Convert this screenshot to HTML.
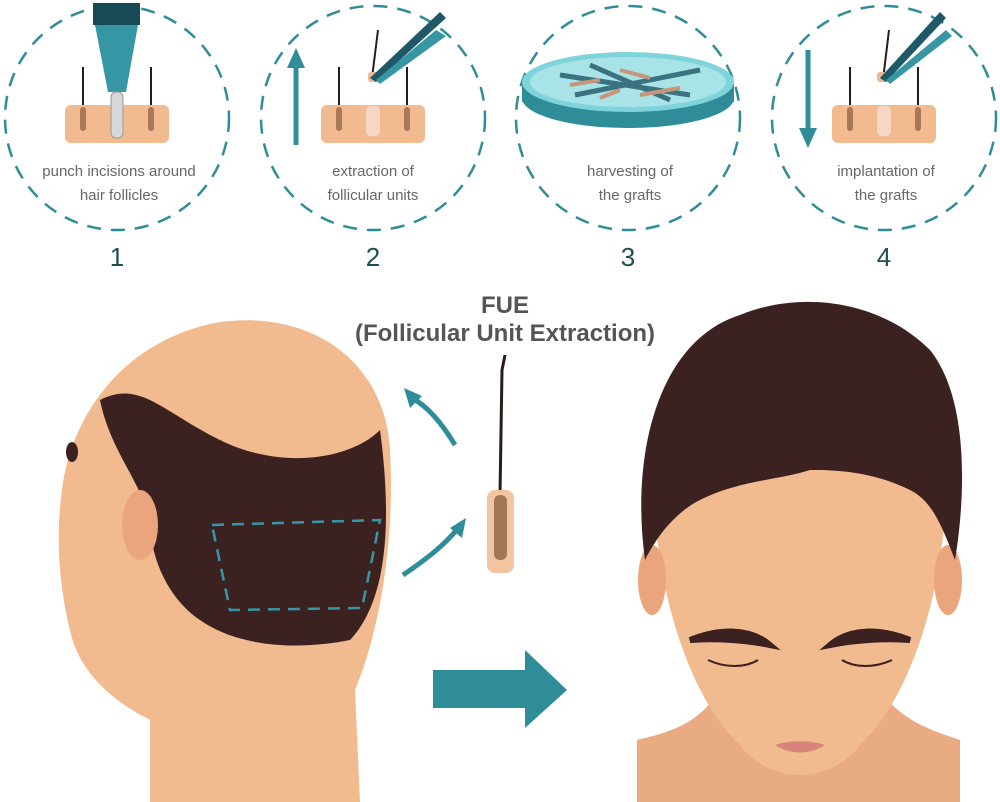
<!DOCTYPE html>
<html><head><meta charset="utf-8"><style>
html,body{margin:0;padding:0;background:#fff;}
svg{display:block;}
text{font-family:"Liberation Sans",sans-serif;}
</style></head><body>
<svg width="1000" height="802" viewBox="0 0 1000 802" xmlns="http://www.w3.org/2000/svg">
<defs>
<g id="skin">
<rect x="-52" y="0" width="104" height="38" rx="6" fill="#f2bb8f"/>
<path d="M-34 0 L-34 -38" stroke="#2b1a18" stroke-width="2"/>
<path d="M34 0 L34 -38" stroke="#2b1a18" stroke-width="2"/>
<rect x="-37" y="2" width="6" height="24" rx="3" fill="#a87858"/>
<rect x="31" y="2" width="6" height="24" rx="3" fill="#a87858"/>
</g>
</defs>
<g fill="none" stroke="#2e8d98" stroke-width="2.5" stroke-dasharray="14 10">
<circle cx="117" cy="118" r="112"/>
<circle cx="373" cy="118" r="112"/>
<circle cx="628" cy="118" r="112"/>
<circle cx="884" cy="118" r="112"/>
</g>
<use href="#skin" x="117" y="105"/>
<rect x="93" y="3" width="47" height="22" fill="#184a55"/>
<path d="M95 25 L138 25 L126 92 L108 92 Z" fill="#3796a4"/>
<rect x="111" y="92" width="12" height="46" rx="5" fill="#d8d8d8" stroke="#999"/>
<use href="#skin" x="373" y="105"/>
<rect x="366" y="106" width="14" height="30" rx="5" fill="#f7d7c4"/>
<path d="M372 78 L378 30" stroke="#2b1a18" stroke-width="2"/>
<rect x="368" y="72" width="14" height="10" rx="3" fill="#e9b991"/>
<path d="M370 78 L440 12 L446 18 L376 82 Z" fill="#1f5866"/>
<path d="M376 80 L436 30 L446 36 L380 84 Z" fill="#3796a4"/>
<path d="M296 145 L296 60" stroke="#2e8d98" stroke-width="5"/>
<path d="M287 68 L296 48 L305 68 Z" fill="#2e8d98"/>
<ellipse cx="628" cy="98" rx="106" ry="30" fill="#2e8d98"/>
<rect x="522" y="82" width="212" height="20" fill="#2e8d98"/>
<ellipse cx="628" cy="82" rx="106" ry="30" fill="#7fd3da"/>
<ellipse cx="628" cy="82" rx="98" ry="25" fill="#a7e3e7"/>
<g stroke="#1f5866" stroke-width="5" opacity="0.8">
<path d="M560 75 L690 95"/><path d="M575 95 L700 70"/><path d="M590 65 L670 100"/>
</g>
<g stroke="#c8957a" stroke-width="4">
<path d="M570 85 L600 80"/><path d="M620 70 L650 78"/><path d="M640 95 L680 88"/><path d="M600 98 L620 90"/>
</g>
<use href="#skin" x="884" y="105"/>
<rect x="877" y="106" width="14" height="30" rx="5" fill="#f7d7c4"/>
<path d="M883 80 L889 30" stroke="#2b1a18" stroke-width="2"/>
<rect x="877" y="72" width="14" height="10" rx="3" fill="#e9b991"/>
<path d="M880 78 L940 12 L946 18 L886 82 Z" fill="#1f5866"/>
<path d="M886 80 L946 30 L952 36 L890 84 Z" fill="#3796a4"/>
<path d="M808 50 L808 135" stroke="#2e8d98" stroke-width="5"/>
<path d="M799 128 L808 148 L817 128 Z" fill="#2e8d98"/>
<g fill="#666" font-size="15" text-anchor="middle">
<text x="119" y="176">punch incisions around</text>
<text x="119" y="200">hair follicles</text>
<text x="373" y="176">extraction of</text>
<text x="373" y="200">follicular units</text>
<text x="630" y="176">harvesting of</text>
<text x="630" y="200">the grafts</text>
<text x="886" y="176">implantation of</text>
<text x="886" y="200">the grafts</text>
</g>
<g fill="#1e4d55" font-size="26" text-anchor="middle">
<text x="117" y="266">1</text><text x="373" y="266">2</text><text x="628" y="266">3</text><text x="884" y="266">4</text>
</g>
<g fill="#555" font-size="24" font-weight="bold" text-anchor="middle">
<text x="505" y="313">FUE</text>
<text x="505" y="341">(Follicular Unit Extraction)</text>
</g>
<!-- left head -->
<path d="M150 802 L150 720 C110 700 78 670 70 630 C60 590 55 540 62 490 C70 420 120 340 220 322 C310 310 385 360 390 450 C395 540 380 630 355 690 L360 802 Z" fill="#f2bb8f"/>
<path d="M100 400 C140 380 160 410 220 440 C280 470 350 460 380 430 C392 520 388 600 350 640 C300 650 240 648 200 620 C170 600 150 560 150 520 C140 480 110 450 100 400 Z" fill="#3b2220"/>
<ellipse cx="140" cy="525" rx="18" ry="35" fill="#eaa57f"/>
<ellipse cx="72" cy="452" rx="6" ry="10" fill="#3b2220"/>
<path d="M212 525 L380 520 L362 608 L230 610 Z" fill="none" stroke="#3796a4" stroke-width="2.5" stroke-dasharray="12 8"/>
<path d="M455 445 C440 420 425 405 412 398" fill="none" stroke="#2e8d98" stroke-width="5"/>
<path d="M404 388 L422 396 L410 408 Z" fill="#2e8d98"/>
<path d="M403 575 C425 560 445 545 458 528" fill="none" stroke="#2e8d98" stroke-width="5"/>
<path d="M466 518 L462 538 L450 528 Z" fill="#2e8d98"/>
<path d="M500 495 L502 370 L505 355" stroke="#2b1a18" stroke-width="3" fill="none"/>
<rect x="487" y="490" width="27" height="83" rx="8" fill="#f2c4a0"/>
<rect x="494" y="495" width="13" height="65" rx="6" fill="#a07858"/>
<path d="M433 670 L525 670 L525 650 L567 690 L525 728 L525 708 L433 708 Z" fill="#2e8d98"/>
<!-- right face -->
<path d="M637 802 L637 740 C680 730 700 720 720 690 L880 690 C900 720 930 730 960 740 L960 802 Z" fill="#e9ab82"/>
<path d="M655 470 C650 580 690 700 740 745 C770 785 830 785 860 745 C910 700 950 580 945 470 Z" fill="#f2bb8f"/>
<ellipse cx="652" cy="580" rx="14" ry="35" fill="#eaa57f"/>
<ellipse cx="948" cy="580" rx="14" ry="35" fill="#eaa57f"/>
<path d="M645 560 C630 450 660 340 740 315 C800 290 880 300 930 350 C970 400 965 500 955 560 C940 520 930 500 910 490 C870 470 830 470 810 470 C780 480 740 480 700 500 C680 510 660 530 645 560 Z" fill="#3b2220"/>
<path d="M690 640 C720 628 750 628 770 645 C745 640 715 638 690 640 Z" fill="#3b2220" stroke="#3b2220" stroke-width="6"/>
<path d="M910 640 C880 628 850 628 830 645 C855 640 885 638 910 640 Z" fill="#3b2220" stroke="#3b2220" stroke-width="6"/>
<path d="M708 660 C725 668 745 668 758 660" stroke="#3b2220" stroke-width="2" fill="none"/>
<path d="M842 660 C855 668 875 668 892 660" stroke="#3b2220" stroke-width="2" fill="none"/>
<path d="M775 745 C790 755 810 755 825 745 C810 740 790 740 775 745 Z" fill="#d9847a"/>
</svg>
</body></html>
